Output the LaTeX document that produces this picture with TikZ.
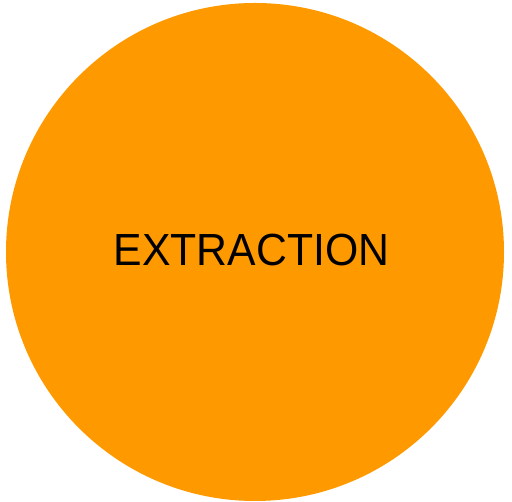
\documentclass[tikz,border=0pt]{standalone}
\usepackage{fontspec}
\setmainfont{Liberation Sans}
\definecolor{extraorange}{HTML}{FF9900}

\begin{document}
\begin{tikzpicture}[x=1pt,y=1pt]
    \useasboundingbox (0,0) rectangle (512,502);
    % Disque
    \node[circle,fill=extraorange,minimum size=498pt,inner sep=0pt] (disque) at (255,250) {};
    % Texte
    \node[inner sep=0pt] (titre) at (251.5,251.5) {\scalebox{0.95}[1]{\fontsize{45}{45}\selectfont EXTRACTION}};
\end{tikzpicture}
\end{document}
